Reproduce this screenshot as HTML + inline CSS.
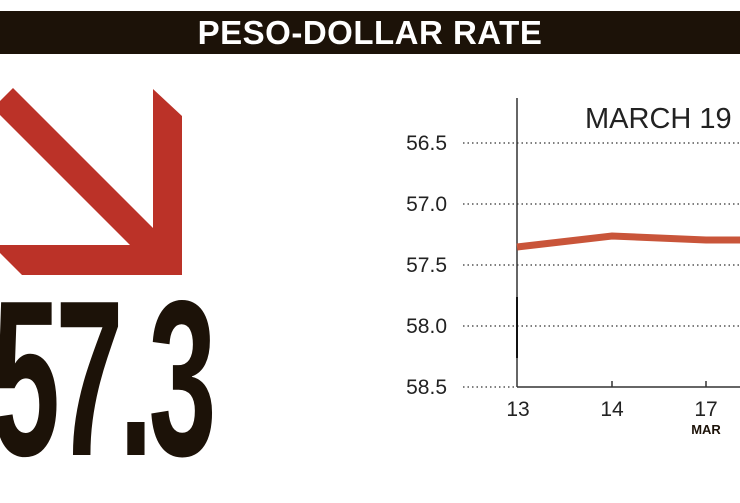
<!DOCTYPE html>
<html><head><meta charset="utf-8"><style>
html,body{margin:0;padding:0;background:#fff;}
body{width:740px;height:489px;position:relative;overflow:hidden;font-family:"Liberation Sans",sans-serif;}
.band{position:absolute;left:0;top:11px;width:740px;height:43px;background:#1c1208;}
.title{position:absolute;left:0;width:740px;top:11px;height:43px;line-height:44px;text-align:center;color:#fff;font-weight:bold;font-size:33px;letter-spacing:0.5px;}
.big{position:absolute;left:-8px;top:268px;font-weight:bold;font-size:222px;line-height:222px;color:#1c1208;transform:scaleX(0.55);transform-origin:0 0;letter-spacing:-8px;}
</style></head><body>
<div class="band"></div>
<div class="title">PESO-DOLLAR RATE</div>
<svg width="740" height="489" style="position:absolute;left:0;top:0">
<polygon points="0,101 13,88 153,228 153,89 182,116 182,275 22,275 0,253 0,245 130,245 0,115" fill="#bb3228"/>
<g stroke="#333" stroke-width="1.3" stroke-dasharray="1.5,3">
<line x1="463" y1="143" x2="740" y2="143"/>
<line x1="463" y1="204" x2="740" y2="204"/>
<line x1="463" y1="265" x2="740" y2="265"/>
<line x1="463" y1="326" x2="740" y2="326"/>
<line x1="463" y1="387" x2="517" y2="387"/>
</g>
<line x1="517" y1="98" x2="517" y2="387" stroke="#333" stroke-width="1.5"/>
<line x1="517" y1="297" x2="517" y2="358" stroke="#111" stroke-width="2"/>
<line x1="517" y1="387" x2="740" y2="387" stroke="#333" stroke-width="1.5"/>
<line x1="612" y1="381" x2="612" y2="387" stroke="#333" stroke-width="1.5"/>
<line x1="706" y1="381" x2="706" y2="387" stroke="#333" stroke-width="1.5"/>
<polyline points="517,247 612,236 706,240 740,240" fill="none" stroke="#c9553a" stroke-width="7"/>
<g font-family="Liberation Sans, sans-serif" font-size="21" fill="#222" text-anchor="end">
<text x="447" y="150">56.5</text>
<text x="447" y="211">57.0</text>
<text x="447" y="272">57.5</text>
<text x="447" y="333">58.0</text>
<text x="447" y="394">58.5</text>
</g>
<g font-family="Liberation Sans, sans-serif" font-size="21" fill="#222" text-anchor="middle">
<text x="518" y="416">13</text>
<text x="612" y="416">14</text>
<text x="706" y="416">17</text>
</g>
<text x="706" y="434" font-family="Liberation Sans, sans-serif" font-size="13" font-weight="bold" fill="#1c1208" text-anchor="middle">MAR</text>
<text x="585" y="128" font-family="Liberation Sans, sans-serif" font-size="29" fill="#222">MARCH 19</text>
</svg>
<div class="big">57.3</div>
</body></html>
